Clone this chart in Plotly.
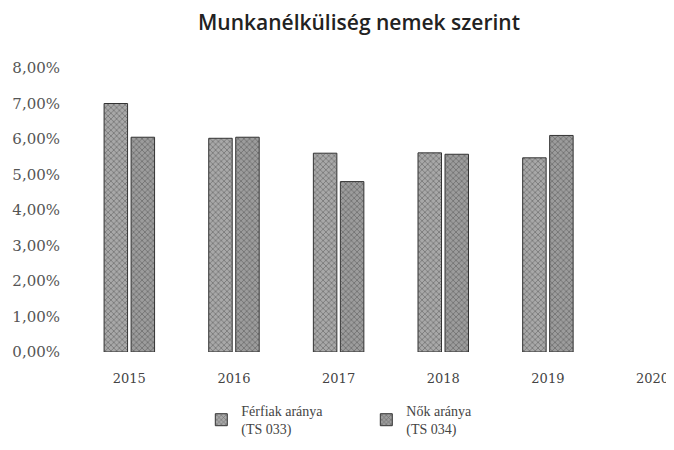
import plotly.graph_objects as go

years = ["2015", "2016", "2017", "2018", "2019", "2020"]
ferfiak = [7.00, 6.02, 5.60, 5.61, 5.47, None]
nok = [6.05, 6.05, 4.80, 5.57, 6.10, None]
series_names = ["Férfiak aránya<br>(TS 033)", "Nők aránya<br>(TS 034)"]
y_ticks = [0, 1, 2, 3, 4, 5, 6, 7, 8]
y_ticktext = [f"{v:.2f}".replace(".", ",") + "%" for v in y_ticks]

fig = go.Figure()
for name, vals, bg in [(series_names[0], ferfiak, "#a8a8a8"), (series_names[1], nok, "#9c9c9c")]:
    fig.add_trace(go.Bar(
        x=years, y=vals, name=name,
        marker=dict(
            color=bg,
            line=dict(color="#333333", width=1),
            pattern=dict(shape="x", fgcolor="#3c3c3c", bgcolor=bg, size=4, solidity=0.35),
        ),
    ))

# page body has an 8px default margin, so the figure is sized/placed to compensate
fig.update_layout(
    width=666, height=442,
    margin=dict(l=69, r=0, t=60, b=98),
    paper_bgcolor="white", plot_bgcolor="white",
    barmode="group", bargap=0.484, bargroupgap=0.13,
    title=dict(
        text="Munkanélküliség nemek szerint",
        font=dict(family="Open Sans, Lato, sans-serif", size=21, color="#222222", weight=600),
        xref="container", x=0.527, xanchor="center",
        yref="container", y=0.968, yanchor="middle",
    ),
    xaxis=dict(
        type="category", range=[-0.5, 5.205], automargin=False,
        showgrid=False, showline=False, zeroline=False,
        tickfont=dict(family="DejaVu Serif, serif", size=13, color="#444444"),
        ticks="", ticklabelstandoff=17,
    ),
    yaxis=dict(
        range=[0, 8], tickvals=y_ticks, ticktext=y_ticktext, automargin=False,
        showgrid=False, showline=False, zeroline=False,
        tickfont=dict(family="DejaVu Serif, serif", size=15, color="#555555"),
        ticks="", ticklabelstandoff=16,
    ),
    legend=dict(
        orientation="h",
        xref="container", x=0.538, xanchor="center",
        yref="container", y=0.1244, yanchor="top",
        font=dict(family="Liberation Serif, serif", size=14, color="#444444"),
        itemwidth=30, entrywidth=120, entrywidthmode="pixels",
    ),
)

fig.write_html("out.html")
